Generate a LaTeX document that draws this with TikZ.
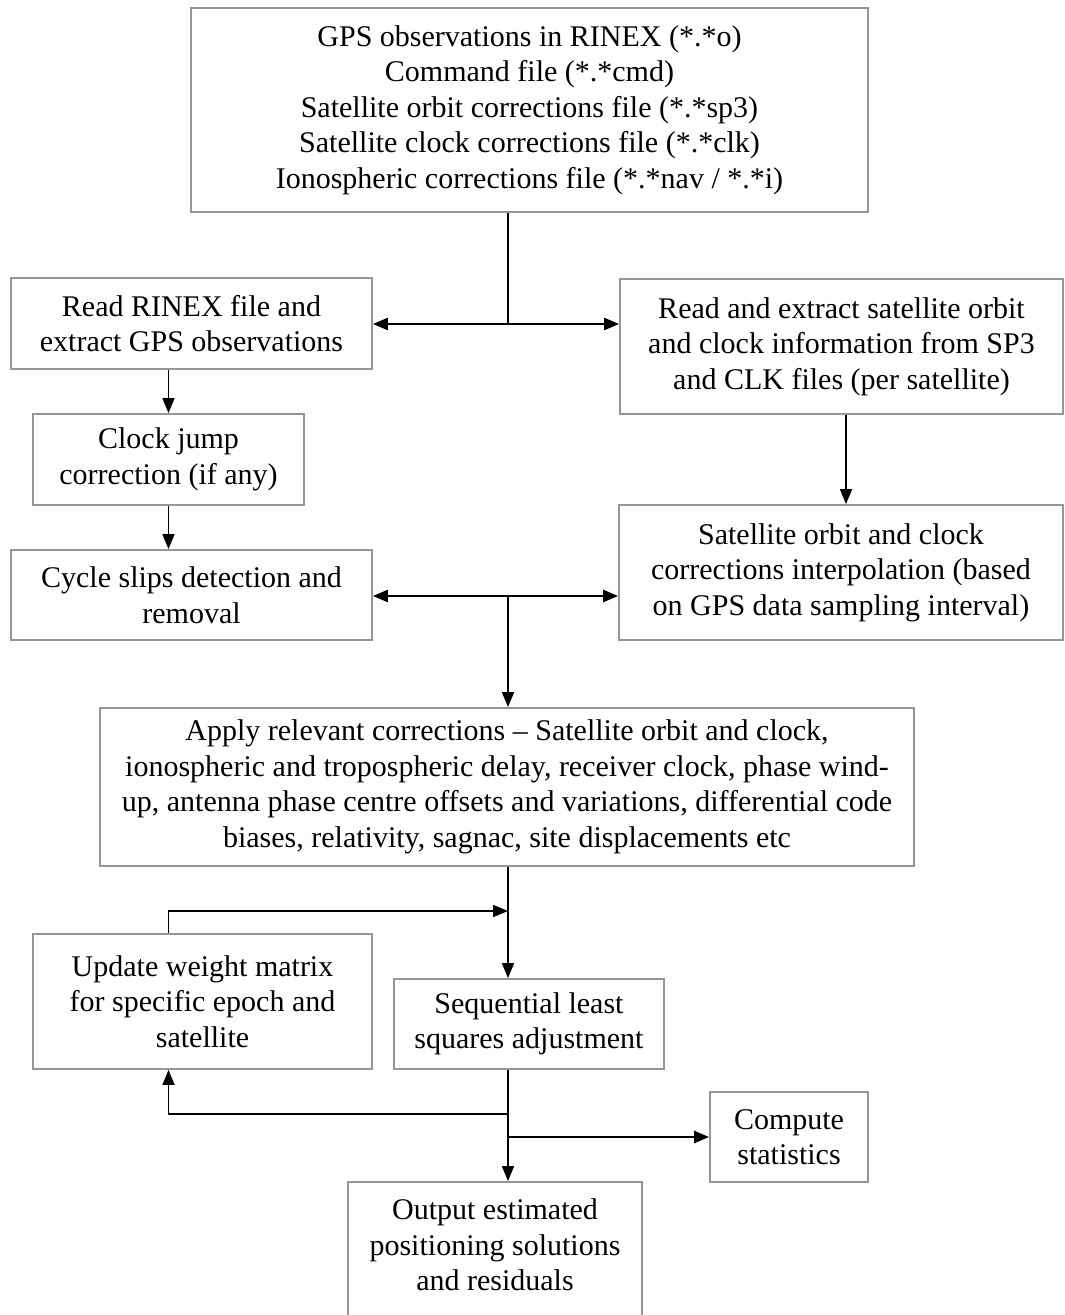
\documentclass[tikz,border=0pt]{standalone}
\usepackage{fontspec}
\setmainfont{Liberation Serif}
\usetikzlibrary{arrows.meta}
\definecolor{boxgray}{RGB}{150,150,150}
\begin{document}
\begin{tikzpicture}[x=1pt,y=-1pt,
  box/.style={draw=boxgray, line width=1.8pt, align=center, inner sep=0pt,
              font=\fontsize{30}{35.5}\selectfont},
  txt/.style={align=center, inner sep=0pt, font=\fontsize{30}{35.5}\selectfont},
  tip/.tip={Triangle[length=15pt,width=12pt]},
  conn/.style={line width=1.6pt, -tip},
  dconn/.style={line width=2.5pt, tip-tip},
  plain/.style={line width=1.6pt}]
\useasboundingbox (0,0) rectangle (1065,1315);
\clip (0,0) rectangle (1065,1315);

\node[box, minimum width=677pt, minimum height=204pt] (top) at (529.5,110)
  {GPS observations in RINEX (*.*o)\\Command file (*.*cmd)\\Satellite orbit corrections file (*.*sp3)\\Satellite clock corrections file (*.*clk)\\Ionospheric corrections file (*.*nav / *.*i)};
\node[box, minimum width=361pt, minimum height=91pt] (rinex) at (191.5,323.5)
  {Read RINEX file and\\extract GPS observations};
\node[box, minimum width=443pt, minimum height=135pt] (sp3) at (841.5,346.5)
  {Read and extract satellite orbit\\and clock information from SP3\\and CLK files (per satellite)};
\node[box, minimum width=271pt, minimum height=91pt] (clock) at (168.5,459.5)
  {Clock jump\\correction (if any)};
\node[box, minimum width=361pt, minimum height=90pt] (cycle) at (191.5,595)
  {Cycle slips detection and\\removal};
\node[box, minimum width=444pt, minimum height=135pt] (interp) at (841,572.5)
  {Satellite orbit and clock\\corrections interpolation (based\\on GPS data sampling interval)};
\node[box, minimum width=814pt, minimum height=158pt] (apply) at (507,787)
  {Apply relevant corrections -- Satellite orbit and clock,\\ionospheric and tropospheric delay, receiver clock, phase wind-\\up, antenna phase centre offsets and variations, differential code\\biases, relativity, sagnac, site displacements etc};
\node[box, minimum width=339pt, minimum height=135pt] (update) at (202.5,1001.5)
  {Update weight matrix\\for specific epoch and\\satellite};
\node[box, minimum width=270pt, minimum height=90pt] (seq) at (529,1024)
  {Sequential least\\squares adjustment};
\node[box, minimum width=158pt, minimum height=90pt] (comp) at (789,1137)
  {Compute\\statistics};
\node[box, minimum width=294pt, minimum height=150pt] (out) at (495,1257) {};
\node[txt] (outtxt) at (495,1245) {Output estimated\\positioning solutions\\and residuals};

% junctions
\coordinate (j1) at (508,324);
\coordinate (j2) at (508,596);
\coordinate (j3) at (508,911);
\coordinate (j4) at (508,1114);
\coordinate (j5) at (508,1137);
\coordinate (s1) at (846,414);

\draw[plain] (top.south -| j1) -- (j1);
\draw[dconn] (rinex.east |- j1) -- (sp3.west |- j1);
\draw[conn] (rinex.south -| clock.north) -- (clock.north);
\draw[conn] (clock.south) -- (clock.south |- cycle.north);
\draw[conn] (s1 |- sp3.south) -- (s1 |- interp.north);
\draw[dconn] (cycle.east |- j2) -- (interp.west |- j2);
\draw[conn] (j2) -- (j2 |- apply.north);
\draw[conn] (apply.south -| j3) -- (j3 |- seq.north);
\draw[conn] (update.north -| clock.north) -- (clock.north |- j3) -- (j3);
\draw[plain] (seq.south -| j4) -- (j4);
\draw[conn] (j4) -- (clock.north |- j4) -- (clock.north |- update.south);
\draw[conn] (j4) -- (j4 |- out.north);
\draw[line width=2.5pt, -tip] (j5) -- (comp.west);
\end{tikzpicture}
\end{document}
